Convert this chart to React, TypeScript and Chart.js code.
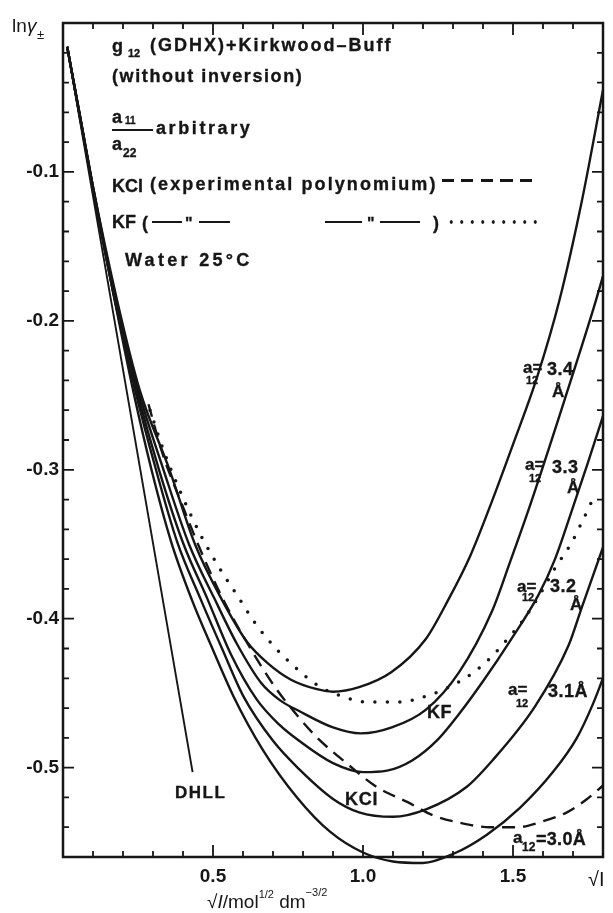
import React, { useEffect, useRef } from 'react';
import { Chart, registerables } from 'chart.js';
Chart.register(...registerables);

const FONT = '"Liberation Sans", Arial, Helvetica, sans-serif';
const INK = '#161616';

// √I (x) and ln γ± (y) values
const a30X = [0.014, 0.06, 0.1, 0.172, 0.235, 0.295, 0.36, 0.429, 0.5, 0.568, 0.666, 0.78, 0.89, 1.0, 1.1, 1.2, 1.3, 1.413, 1.523, 1.633, 1.713, 1.767, 1.8];
const a30Y = [-0.016, -0.067, -0.112, -0.186, -0.248, -0.3, -0.348, -0.387, -0.421, -0.452, -0.488, -0.52, -0.543, -0.557, -0.563, -0.564, -0.558, -0.545, -0.527, -0.503, -0.48, -0.457, -0.44];

const a31X = [0.014, 0.06, 0.1, 0.172, 0.24, 0.31, 0.38, 0.459, 0.53, 0.601, 0.7, 0.787, 0.9, 0.987, 1.1, 1.21, 1.345, 1.432, 1.573, 1.685, 1.73, 1.8];
const a31Y = [-0.016, -0.067, -0.111, -0.185, -0.246, -0.3, -0.348, -0.387, -0.42, -0.452, -0.482, -0.501, -0.521, -0.53, -0.533, -0.528, -0.513, -0.495, -0.459, -0.418, -0.392, -0.352];

const a32X = [0.014, 0.06, 0.1, 0.172, 0.245, 0.32, 0.4, 0.482, 0.56, 0.645, 0.72, 0.787, 0.9, 1.0, 1.08, 1.165, 1.25, 1.32, 1.4, 1.49, 1.585, 1.64, 1.7, 1.75, 1.8];
const a32Y = [-0.016, -0.067, -0.111, -0.185, -0.246, -0.3, -0.349, -0.387, -0.424, -0.454, -0.471, -0.482, -0.497, -0.503, -0.502, -0.495, -0.481, -0.464, -0.442, -0.415, -0.384, -0.36, -0.325, -0.295, -0.264];

const a33X = [0.014, 0.06, 0.1, 0.176, 0.25, 0.335, 0.42, 0.506, 0.58, 0.66, 0.725, 0.787, 0.9, 0.993, 1.096, 1.21, 1.32, 1.43, 1.49, 1.56, 1.672, 1.771, 1.8];
const a33Y = [-0.016, -0.066, -0.11, -0.186, -0.246, -0.3, -0.35, -0.387, -0.417, -0.443, -0.455, -0.462, -0.473, -0.477, -0.473, -0.461, -0.436, -0.395, -0.362, -0.322, -0.253, -0.19, -0.17];

const a34X = [0.014, 0.06, 0.1, 0.18, 0.255, 0.355, 0.44, 0.529, 0.615, 0.683, 0.76, 0.84, 0.9, 0.987, 1.094, 1.208, 1.285, 1.357, 1.432, 1.5, 1.58, 1.655, 1.73, 1.8];
const a34Y = [-0.016, -0.066, -0.11, -0.186, -0.246, -0.3, -0.35, -0.387, -0.416, -0.43, -0.441, -0.447, -0.449, -0.446, -0.436, -0.414, -0.387, -0.358, -0.32, -0.283, -0.238, -0.186, -0.119, -0.045];

const dhllX = [0.014, 0.432];
const dhllY = [-0.016, -0.503];

const kclX = [0.285, 0.33, 0.4, 0.467, 0.536, 0.622, 0.707, 0.785, 0.853, 0.945, 1.046, 1.147, 1.233, 1.323, 1.423, 1.513, 1.6, 1.68, 1.747, 1.8];
const kclY = [-0.256, -0.288, -0.325, -0.358, -0.388, -0.419, -0.446, -0.466, -0.481, -0.497, -0.513, -0.523, -0.532, -0.537, -0.54, -0.54, -0.536, -0.53, -0.521, -0.512];

const kfX = [0.29, 0.337, 0.396, 0.462, 0.534, 0.586, 0.637, 0.705, 0.776, 0.851, 0.928, 1.012, 1.118, 1.21, 1.286, 1.362, 1.426, 1.48, 1.53, 1.592, 1.64, 1.695, 1.73, 1.775];
const kfY = [-0.26, -0.288, -0.317, -0.345, -0.37, -0.386, -0.402, -0.419, -0.433, -0.445, -0.452, -0.456, -0.456, -0.452, -0.446, -0.437, -0.426, -0.414, -0.402, -0.383, -0.366, -0.349, -0.335, -0.316];

const X_MIN = 0, X_MAX = 1.8, X_STEP = 0.1, X_MAJOR = 0.5;
const Y_MIN = -0.56, Y_MAX = 0, Y_STEP = 0.02, Y_MAJOR = 0.1;

const isMult = (v: number, step: number) => {
  const r = v / step;
  return Math.abs(r - Math.round(r)) < 1e-6;
};

const framePlugin = {
  id: 'frameTicks',
  afterDatasetsDraw(chart: any) {
    const { ctx, chartArea: a, scales } = chart;
    const xs = scales.x, ys = scales.y;
    ctx.save();
    ctx.strokeStyle = INK;
    ctx.lineWidth = 2.5;
    ctx.strokeRect(a.left, a.top, a.right - a.left, a.bottom - a.top);
    ctx.lineWidth = 1.8;
    ctx.beginPath();
    xs.ticks.forEach((t: any) => {
      const px = xs.getPixelForValue(t.value);
      if (px <= a.left + 2 || px >= a.right - 2) return;
      const len = isMult(t.value, X_MAJOR) ? 12 : 6;
      ctx.moveTo(px, a.bottom); ctx.lineTo(px, a.bottom - len);
      ctx.moveTo(px, a.top); ctx.lineTo(px, a.top + len);
    });
    ys.ticks.forEach((t: any) => {
      const py = ys.getPixelForValue(t.value);
      if (py <= a.top + 2 || py >= a.bottom - 2) return;
      const len = isMult(t.value, Y_MAJOR) ? 11 : 6;
      ctx.moveTo(a.left, py); ctx.lineTo(a.left + len, py);
      ctx.moveTo(a.right, py); ctx.lineTo(a.right - len, py);
    });
    ctx.stroke();
    ctx.restore();
  },
};

type T = { t: React.ReactNode; x: number; b: number; s: number; w?: number; i?: boolean; ls?: number };

const texts: T[] = [
  { t: 'ln', x: 12, b: 32, s: 19, w: 400 },
  { t: 'γ', x: 27, b: 32, s: 19, w: 400, i: true },
  { t: '±', x: 37, b: 39, s: 13, w: 400 },

  { t: 'g', x: 112, b: 52, s: 18 },
  { t: '12', x: 128, b: 57, s: 11 },
  { t: '(GDHX)+Kirkwood–Buff', x: 150, b: 51, s: 18, ls: 2.0 },
  { t: '(without inversion)', x: 112, b: 82, s: 18, ls: 1.6 },
  { t: 'a', x: 112, b: 123, s: 18 },
  { t: '11', x: 125, b: 124, s: 10 },
  { t: 'a', x: 112, b: 150, s: 18 },
  { t: '22', x: 123, b: 157, s: 12 },
  { t: 'arbitrary', x: 156, b: 134, s: 18, ls: 2.6 },
  { t: 'KCl', x: 112, b: 192, s: 18, ls: 0 },
  { t: '(experimental polynomium)', x: 150, b: 190, s: 18, ls: 2.1 },
  { t: 'KF', x: 112, b: 228, s: 18, ls: 0 },
  { t: '(', x: 142, b: 229, s: 18 },
  { t: '"', x: 185, b: 230, s: 16 },
  { t: '"', x: 367, b: 230, s: 16 },
  { t: ')', x: 433, b: 229, s: 18 },
  { t: 'Water 25°C', x: 125, b: 266, s: 18, ls: 3.3 },

  { t: 'a=', x: 523, b: 373, s: 17 },
  { t: '12', x: 526, b: 384, s: 11 },
  { t: '3.4', x: 547, b: 375, s: 18, ls: 0.5 },
  { t: 'Å', x: 552, b: 397, s: 17 },

  { t: 'a=', x: 525, b: 470, s: 17 },
  { t: '12', x: 529, b: 482, s: 11 },
  { t: '3.3', x: 552, b: 473, s: 18, ls: 0.5 },
  { t: 'Å', x: 567, b: 493, s: 17 },

  { t: 'a=', x: 517, b: 592, s: 17 },
  { t: '12', x: 522, b: 601, s: 11 },
  { t: '3.2', x: 550, b: 592, s: 18, ls: 0.5 },
  { t: 'Å', x: 570, b: 610, s: 17 },

  { t: 'a=', x: 508, b: 695, s: 17 },
  { t: '12', x: 516, b: 707, s: 11 },
  { t: '3.1Å', x: 548, b: 697, s: 18, ls: 0.5 },

  { t: 'a', x: 513, b: 843, s: 17 },
  { t: '12', x: 522, b: 851, s: 12 },
  { t: '=3.0Å', x: 536, b: 845, s: 18, ls: 0.3 },

  { t: 'KF', x: 427, b: 718, s: 18, ls: 0.5 },
  { t: 'KCl', x: 345, b: 805, s: 18, ls: 0.8 },
  { t: 'DHLL', x: 175, b: 798, s: 17, ls: 1.5 },

  { t: '√I', x: 588, b: 886, s: 20, w: 400 },
];

const Txt = ({ t, x, b, s, w = 700, i = false, ls = 0 }: T) => (
  <span
    style={{
      position: 'absolute',
      left: x,
      top: b - 0.8465 * s,
      fontFamily: FONT,
      fontSize: s,
      lineHeight: `${s}px`,
      fontWeight: w,
      fontStyle: i ? 'italic' : 'normal',
      letterSpacing: ls,
      whiteSpace: 'nowrap',
      color: INK,
      WebkitTextStroke: w >= 700 ? '0.35px ' + INK : undefined,
    }}
  >
    {t}
  </span>
);

const bar = (x: number, y: number, w: number, h = 2.2): React.CSSProperties => ({
  position: 'absolute', left: x, top: y - h / 2, width: w, height: h, background: INK,
});

export default function App() {
  const ref = useRef<HTMLCanvasElement>(null);

  useEffect(() => {
    const pts = (xs: number[], ys: number[]) => xs.map((x, i) => ({ x, y: ys[i] }));
    const line = (label: string, xs: number[], ys: number[], extra: any = {}) => ({
      label,
      data: pts(xs, ys),
      showLine: true,
      borderColor: INK,
      backgroundColor: INK,
      borderWidth: 2.4,
      pointRadius: 0,
      pointHoverRadius: 0,
      fill: false,
      clip: false,
      cubicInterpolationMode: 'monotone',
      ...extra,
    });
    const tickFont = { family: FONT, size: 19, weight: 'bold' as const };
    const chart = new Chart(ref.current as HTMLCanvasElement, {
      type: 'scatter',
      data: {
        datasets: [
          line('a12=3.0 Å', a30X, a30Y),
          line('a12=3.1 Å', a31X, a31Y),
          line('a12=3.2 Å', a32X, a32Y),
          line('a12=3.3 Å', a33X, a33Y),
          line('a12=3.4 Å', a34X, a34Y),
          line('DHLL', dhllX, dhllY, { borderWidth: 1.9 }),
          line('KCl', kclX, kclY, { borderDash: [13, 8], borderWidth: 2.4 }),
          line('KF', kfX, kfY, { borderDash: [0, 12.5], borderWidth: 3.5, borderCapStyle: 'round' }),
        ] as any,
      },
      options: {
        responsive: false,
        animation: false,
        devicePixelRatio: 1,
        events: [],
        layout: { padding: { top: 23, right: 10, left: 0, bottom: 0 } },
        plugins: { legend: { display: false }, tooltip: { enabled: false } },
        scales: {
          x: {
            type: 'linear',
            min: X_MIN,
            max: X_MAX,
            afterFit: (s: any) => { s.height = 56; },
            grid: { display: false, drawTicks: false },
            border: { display: false },
            ticks: {
              stepSize: X_STEP,
              autoSkip: false,
              maxRotation: 0,
              padding: 8,
              color: INK,
              font: tickFont,
              callback: (v: any) => (isMult(v, X_MAJOR) && v > 0.01 && v < X_MAX - 0.01 ? Number(v).toFixed(1) : ''),
            },
          },
          y: {
            type: 'linear',
            min: Y_MIN,
            max: Y_MAX,
            afterFit: (s: any) => { s.width = 63; },
            grid: { display: false, drawTicks: false },
            border: { display: false },
            ticks: {
              stepSize: Y_STEP,
              autoSkip: false,
              padding: 4,
              color: INK,
              font: tickFont,
              callback: (v: any) => (isMult(v, Y_MAJOR) && v < -0.01 && v > Y_MIN + 0.01 ? Number(v).toFixed(1) : ''),
            },
          },
        },
      } as any,
      plugins: [framePlugin],
    });
    return () => chart.destroy();
  }, []);

  return (
    <div style={{ position: 'absolute', left: 0, top: 0, width: 613, height: 913, background: '#fff', overflow: 'hidden' }}>
      <canvas ref={ref} width={613} height={913} style={{ position: 'absolute', left: 0, top: 0 }} />
      <div style={{ position: 'absolute', left: 0, top: 0, width: 613, height: 913, pointerEvents: 'none' }}>
        {texts.map((d, k) => <Txt key={k} {...d} />)}
        {/* fraction bar a11/a22 */}
        <div style={bar(112, 130, 41, 2)} />
        {/* KCl legend dashes */}
        <div style={{ position: 'absolute', left: 442, top: 179, width: 92, height: 2.6, background: `repeating-linear-gradient(to right, ${INK} 0 12px, transparent 12px 19.5px)` }} />
        {/* KF legend ditto lines */}
        <div style={bar(152, 222, 30)} />
        <div style={bar(199, 222, 31)} />
        <div style={bar(325, 222, 37)} />
        <div style={bar(380, 222, 40)} />
        {/* KF legend dots */}
        <div style={{ position: 'absolute', left: 446, top: 220, width: 94, height: 4, background: `radial-gradient(circle, ${INK} 1.5px, transparent 1.9px)`, backgroundSize: '10.5px 4px' }} />
        {/* x-axis title */}
        <span style={{ position: 'absolute', left: 207, top: 908 - 0.8465 * 19, fontFamily: FONT, fontSize: 19, lineHeight: '19px', whiteSpace: 'nowrap', color: INK }}>
          √<i>I</i>/mol<span style={{ fontSize: 11, position: 'relative', top: -10 }}>1/2</span> dm<span style={{ fontSize: 11, position: 'relative', top: -12 }}>−3/2</span>
        </span>
      </div>
    </div>
  );
}
